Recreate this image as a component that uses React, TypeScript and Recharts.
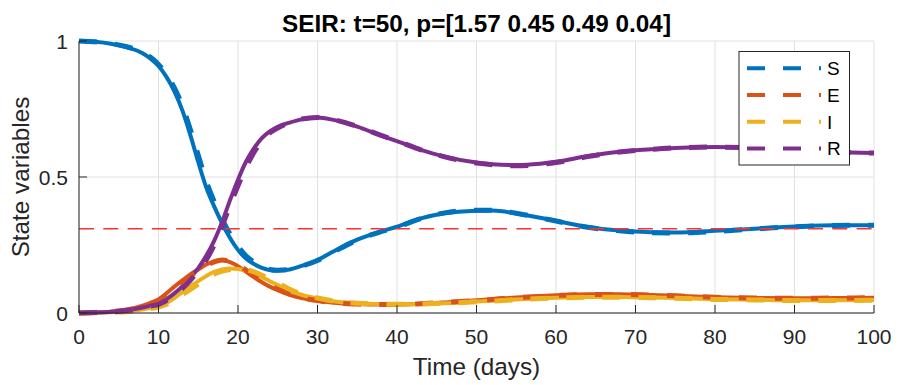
import React from "react";
import {
  LineChart,
  Line,
  XAxis,
  YAxis,
  CartesianGrid,
  ReferenceLine,
} from "recharts";

// ===== data =====
const times = [0, 2, 4, 6, 8, 9, 10, 11, 12, 13, 14, 15, 16, 17, 18, 19, 20, 21, 22, 23, 24, 25, 26.5, 28, 30, 32, 35, 38, 40, 43, 46, 50, 52, 55, 58, 60, 64, 68, 72, 75, 80, 85, 90, 95, 100];

// solid curves (model)
const sSolid = [1.0, 0.997, 0.99, 0.977, 0.955, 0.935, 0.908, 0.868, 0.815, 0.745, 0.655, 0.555, 0.462, 0.392, 0.33, 0.276, 0.232, 0.2, 0.18, 0.166, 0.158, 0.156, 0.16, 0.173, 0.195, 0.226, 0.27, 0.3, 0.317, 0.348, 0.367, 0.376, 0.377, 0.366, 0.35, 0.339, 0.316, 0.303, 0.297, 0.296, 0.302, 0.31, 0.318, 0.323, 0.323];
const eSolid = [0, 0.002, 0.005, 0.012, 0.027, 0.037, 0.05, 0.072, 0.097, 0.12, 0.142, 0.16, 0.178, 0.19, 0.195, 0.187, 0.172, 0.152, 0.132, 0.113, 0.097, 0.084, 0.067, 0.055, 0.045, 0.038, 0.033, 0.031, 0.031, 0.034, 0.039, 0.047, 0.051, 0.057, 0.062, 0.065, 0.069, 0.069, 0.066, 0.063, 0.058, 0.055, 0.054, 0.055, 0.056];
const iSolid = [0, 0.001, 0.003, 0.006, 0.013, 0.018, 0.025, 0.037, 0.055, 0.077, 0.098, 0.117, 0.136, 0.151, 0.16, 0.164, 0.162, 0.156, 0.145, 0.132, 0.117, 0.103, 0.082, 0.067, 0.053, 0.043, 0.036, 0.033, 0.032, 0.033, 0.036, 0.042, 0.045, 0.05, 0.054, 0.056, 0.059, 0.059, 0.057, 0.055, 0.051, 0.049, 0.047, 0.047, 0.048];
const rSolid = [0, 0.002, 0.005, 0.01, 0.02, 0.027, 0.036, 0.051, 0.072, 0.098, 0.13, 0.165, 0.21, 0.265, 0.335, 0.415, 0.49, 0.556, 0.605, 0.643, 0.668, 0.685, 0.7, 0.712, 0.719, 0.71, 0.685, 0.652, 0.632, 0.6, 0.575, 0.553, 0.547, 0.544, 0.549, 0.556, 0.577, 0.593, 0.602, 0.607, 0.61, 0.607, 0.6, 0.592, 0.588];

// dashed curves (fit)
const sDash = [1.0, 0.997, 0.991, 0.979, 0.958, 0.94, 0.914, 0.878, 0.828, 0.762, 0.675, 0.58, 0.485, 0.41, 0.345, 0.29, 0.245, 0.21, 0.187, 0.17, 0.16, 0.157, 0.16, 0.172, 0.193, 0.224, 0.268, 0.299, 0.316, 0.347, 0.368, 0.378, 0.378, 0.367, 0.35, 0.338, 0.315, 0.302, 0.295, 0.294, 0.3, 0.309, 0.317, 0.322, 0.323];
const eDash = [0, 0.002, 0.005, 0.011, 0.025, 0.035, 0.047, 0.067, 0.09, 0.114, 0.136, 0.155, 0.173, 0.188, 0.195, 0.19, 0.177, 0.158, 0.138, 0.118, 0.101, 0.087, 0.069, 0.056, 0.046, 0.038, 0.033, 0.031, 0.031, 0.034, 0.039, 0.046, 0.05, 0.056, 0.061, 0.064, 0.068, 0.068, 0.066, 0.063, 0.058, 0.055, 0.054, 0.055, 0.056];
const iDash = [0, 0.001, 0.003, 0.005, 0.011, 0.016, 0.022, 0.032, 0.048, 0.068, 0.087, 0.106, 0.126, 0.143, 0.154, 0.16, 0.162, 0.16, 0.151, 0.139, 0.124, 0.11, 0.087, 0.07, 0.055, 0.044, 0.036, 0.033, 0.032, 0.033, 0.036, 0.041, 0.044, 0.049, 0.053, 0.055, 0.058, 0.058, 0.056, 0.054, 0.05, 0.048, 0.046, 0.046, 0.047];
const rDash = [0, 0.002, 0.004, 0.009, 0.018, 0.025, 0.032, 0.046, 0.065, 0.09, 0.12, 0.155, 0.195, 0.25, 0.32, 0.395, 0.468, 0.535, 0.59, 0.632, 0.662, 0.68, 0.7, 0.713, 0.719, 0.711, 0.686, 0.653, 0.633, 0.6, 0.574, 0.551, 0.545, 0.541, 0.546, 0.553, 0.575, 0.592, 0.602, 0.607, 0.61, 0.607, 0.6, 0.592, 0.588];

const threshold = 0.31;

const xTicks = [0, 10, 20, 30, 40, 50, 60, 70, 80, 90, 100];
const yTicks = [0, 0.5, 1];
const seriesNames = ["S", "E", "I", "R"];
const colors = ["#0072BD", "#D95319", "#EDB120", "#7E2F8E"];

const rows = times.map((t, i) => ({
  t,
  S: sSolid[i],
  E: eSolid[i],
  I: iSolid[i],
  R: rSolid[i],
  Sd: sDash[i],
  Ed: eDash[i],
  Id: iDash[i],
  Rd: rDash[i],
}));

const FONT = "'Liberation Sans', Arial, Helvetica, sans-serif";
const AXIS = "#262626";

const XTick = ({ x, y, payload }: any) => (
  <g>
    <line x1={x} x2={x} y1={y} y2={y - 8} stroke={AXIS} strokeWidth={1} />
    <text x={x} y={y + 31} textAnchor="middle" fontSize={21} fill={AXIS} fontFamily={FONT}>
      {payload.value}
    </text>
  </g>
);

const YTick = ({ x, y, payload }: any) => (
  <g>
    <line x1={x} x2={x + 8} y1={y} y2={y} stroke={AXIS} strokeWidth={1} />
    <text x={x - 11} y={y + 7.5} textAnchor="end" fontSize={21} fill={AXIS} fontFamily={FONT}>
      {payload.value}
    </text>
  </g>
);

export default function App() {
  return (
    <div style={{ position: "absolute", left: 0, top: 0, width: 899, height: 385, background: "#fff" }}>
      <LineChart
        width={899}
        height={385}
        data={rows}
        margin={{ top: 41, right: 25, bottom: 32, left: 19 }}
      >
        <CartesianGrid stroke="#e1e1e1" strokeWidth={1} />
        <XAxis
          dataKey="t"
          type="number"
          domain={[0, 100]}
          ticks={xTicks}
          interval={0}
          height={40}
          tickSize={0}
          tickMargin={0}
          tickLine={false}
          axisLine={{ stroke: AXIS }}
          tick={XTick}
        />
        <YAxis
          type="number"
          domain={[0, 1]}
          ticks={yTicks}
          interval={0}
          width={60}
          tickSize={0}
          tickMargin={0}
          tickLine={false}
          axisLine={{ stroke: AXIS }}
          tick={YTick}
        />
        {seriesNames.map((n, k) => (
          <Line
            key={n}
            type="monotone"
            dataKey={n}
            stroke={colors[k]}
            strokeWidth={4}
            dot={false}
            activeDot={false}
            isAnimationActive={false}
          />
        ))}
        {seriesNames.map((n, k) => (
          <Line
            key={n + "d"}
            type="monotone"
            dataKey={n + "d"}
            stroke={colors[k]}
            strokeWidth={5}
            strokeDasharray="18 18"
            dot={false}
            activeDot={false}
            isAnimationActive={false}
          />
        ))}
        <ReferenceLine y={threshold} stroke="#ff3030" strokeWidth={1.5} strokeDasharray="15 9.3" />
      </LineChart>

      {/*===== title, axis labels, legend =====*/}
      <svg
        width={899}
        height={385}
        style={{ position: "absolute", left: 0, top: 0, pointerEvents: "none" }}
        fontFamily={FONT}
      >
        <text x={476.5} y={31.5} textAnchor="middle" fontSize={24.3} fontWeight="bold" fill="#000">
          SEIR: t=50, p=[1.57 0.45 0.49 0.04]
        </text>
        <text x={476.5} y={374.5} textAnchor="middle" fontSize={24.3} fill={AXIS}>
          Time (days)
        </text>
        <text
          x={0}
          y={0}
          transform="translate(28.5,177) rotate(-90)"
          textAnchor="middle"
          fontSize={24.3}
          fill={AXIS}
        >
          State variables
        </text>

        <rect x={739} y={51.5} width={110.5} height={113.5} fill="#fff" stroke={AXIS} strokeWidth={1} />
        {seriesNames.map((n, k) => {
          const cy = 68.3 + k * 26.7;
          return (
            <g key={n}>
              <line x1={747} x2={821} y1={cy} y2={cy} stroke={colors[k]} strokeWidth={4} strokeDasharray="18 18" />
              <text x={827} y={cy + 7} fontSize={19} fill="#000">
                {n}
              </text>
            </g>
          );
        })}
      </svg>
    </div>
  );
}
